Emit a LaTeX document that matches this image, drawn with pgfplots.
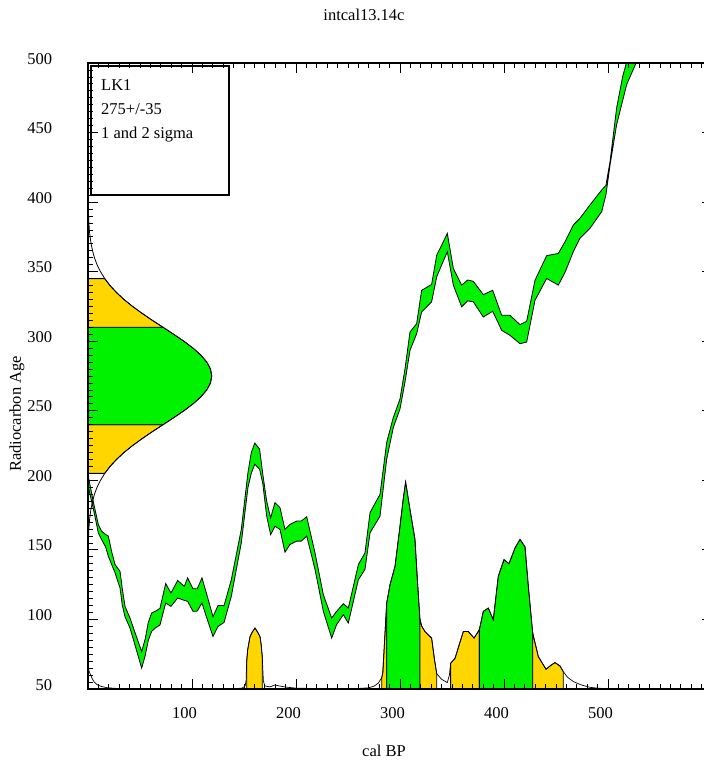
\documentclass[border=0pt]{standalone}
\usepackage{fontspec}
\setmainfont{Liberation Serif}
\usepackage{pgfplots}
\pgfplotsset{compat=1.18}
\definecolor{cgreen}{RGB}{0,242,0}
\definecolor{cyellow}{RGB}{255,214,0}
\newcommand{\fs}{\fontsize{16.5}{19}\selectfont}
\begin{document}
\fs
\begin{tikzpicture}
\useasboundingbox (-88pt,-72pt) rectangle (616pt,689pt);
\begin{axis}[
  at={(0pt,0pt)}, anchor=south west,
  scale only axis, width=624pt, height=626pt,
  xmin=0, xmax=600, ymin=50, ymax=500,
  xtick={100,200,300,400,500}, ytick={50,100,...,500},
  minor xtick={0,10,...,600}, minor ytick={50,55,...,500},
  tick align=inside, major tick length=10pt, minor tick length=5pt,
  every tick/.style={black, line width=0.8pt},
  axis line style={line width=1.6pt},
  axis on top,
  tick label style={font=\fs},
  xticklabel style={anchor=base, yshift=-29pt, xshift=-7.5pt},
  yticklabel style={anchor=base east, inner sep=0pt, xshift=-35.7pt, yshift=-1pt},
  /pgf/number format/assume math mode=true,
]
% calibration curve band
\addplot[fill=cgreen, draw=black, line width=0.8pt] coordinates {
(0,204)(5,185)(10,168)(13,163.5)(17,161)(19.5,160)(23,148)(26,139.5)(30.8,134.6)(33,122)(35.6,109.4)(40.4,101)(45,91)(51.6,77)(55,86)(58,98)(61.2,104.6)(65,106)(69.2,108)(74.7,125.8)(79.8,119)(86.2,128)(92.6,123.8)(95.8,129.9)(101,122)(105,122)(109.6,129.9)(113.8,119)(120.2,102)(125,110)(130.8,110)(137.8,128.6)(147.4,164.7)(153.8,205.6)(157,220)(160.4,226.8)(165,222.4)(168,205)(171.8,185)(175.6,173)(179.8,184)(184.6,180.4)(189.4,164.7)(194.2,168.3)(200.6,170.7)(205,170.7)(210.3,173.8)(218.3,147.8)(226.3,117.8)(234.3,101)(239,105.8)(245.5,111.3)(250.3,108.2)(260,139.5)(266.3,147.8)(271.2,176.8)(280.8,190)(287.2,227.3)(293.6,245.3)(300,258.5)(304.8,280.2)(309.6,306.6)(316,312.6)(320.8,336.6)(330.4,340.8)(335.3,361.9)(340,369)(345.5,377.5)(351.3,352.3)(359.3,340.3)(365,344)(370.5,343.1)(380.1,333.5)(389.1,336.6)(397.8,318.6)(405.8,318.6)(415.4,311.9)(421.8,314.3)(429.8,343.8)(441,361.5)(452.2,363.1)(459,372)(466.6,383.5)(473,388.4)(482.7,398)(494,408.8)(498,412)(502,429.3)(508.3,467.7)(514,490)(518,501)(522,515)
(530,506)(527.6,501)(518,484.6)(508.3,455.7)(502,426.9)(498,405.2)(494,393.2)(482.7,381.2)(473,374)(466.6,364.3)(459,350)(452.2,340.3)(441,345.1)(429.8,329.4)(421.8,299.4)(415.4,298.2)(405.8,304.2)(397.8,307.8)(389.1,321.5)(380.1,317.4)(370.5,328.3)(365,329)(359.3,324.7)(351.3,340.3)(345.5,364.3)(340,354.7)(335.3,346.3)(330.4,328.3)(320.8,321)(316,305.4)(309.6,293.4)(304.8,270.6)(300,251.3)(293.6,238)(287.2,215.2)(280.8,174.3)(271.2,162.3)(266.3,135.9)(260,128.6)(250.3,97.4)(245.5,103.4)(239,96.2)(234.3,86.6)(226.3,105.8)(218.3,135.9)(210.3,159.9)(205,156.3)(200.6,156.3)(194.2,153.9)(189.4,148.3)(184.6,164.7)(179.8,167)(175.6,161)(171.8,174.3)(168,198)(165,208)(160.4,211.6)(157,205)(153.8,194.8)(147.4,155)(137.8,116.6)(130.8,97.8)(125,95)(120.2,87.7)(113.8,102)(109.6,111.8)(105,106)(101,105.8)(95.8,113)(92.6,113.7)(86.2,115.4)(79.8,109.4)(74.7,111.8)(69.2,96)(65,94)(61.2,91.4)(58,85)(55,74)(51.6,65)(45,82)(40.4,93.8)(35.6,102)(33,110)(30.8,122.6)(26,133.5)(23,139)(19.5,145.5)(17,152)(13,157.5)(10,162)(5,180)(0,196)
} -- cycle;
% radiocarbon date 275+/-35 on the age axis
\addplot[fill=cyellow, draw=black, line width=0.8pt] coordinates {
(0,205)(16.1,205)(21.2,210)(27.4,215)(34.6,220)(42.9,225)(52.1,230)(61.9,235)(72.2,240)(0,240)} -- cycle;
\addplot[fill=cgreen, draw=black, line width=0.8pt] coordinates {
(0,240)(72.2,240)(82.4,245)(92.2,250)(101.1,255)(108.6,260)(114.2,265)(117.8,270)(119,275)(117.8,280)(114.2,285)(108.6,290)(101.1,295)(92.2,300)(82.4,305)(72.2,310)(0,310)} -- cycle;
\addplot[fill=cyellow, draw=black, line width=0.8pt] coordinates {
(0,310)(72.2,310)(61.9,315)(52.1,320)(42.9,325)(34.6,330)(27.4,335)(21.2,340)(16.1,345)(0,345)} -- cycle;
\addplot[draw=black, line width=0.8pt] coordinates {
(0.3,155)(0.55,160)(0.85,165)(1.3,170)(2.0,175)(3.0,180)(4.4,185)(6.2,190)(8.7,195)(12.0,200)(16.1,205)(21.2,210)(27.4,215)(34.6,220)(42.9,225)(52.1,230)(61.9,235)(72.2,240)(82.4,245)(92.2,250)(101.1,255)(108.6,260)(114.2,265)(117.8,270)(119,275)(117.8,280)(114.2,285)(108.6,290)(101.1,295)(92.2,300)(82.4,305)(72.2,310)(61.9,315)(52.1,320)(42.9,325)(34.6,330)(27.4,335)(21.2,340)(16.1,345)(12.0,350)(8.7,355)(6.2,360)(4.4,365)(3.0,370)(2.0,375)(1.3,380)(0.85,385)(0.55,390)(0.3,395)};
% calibrated probability distribution
\addplot[fill=cyellow, draw=black, line width=0.8pt] coordinates {
(152.6,50)(152.6,70)(153.5,78)(155.8,87.7)(158,91)(160.6,93.8)(163,91)(165.4,87.7)(166.5,82)(167.6,73)(167.6,50)} -- cycle;
\addplot[fill=cyellow, draw=black, line width=0.8pt] coordinates {
(282.4,50)(282.4,58)(283.5,62)(285.6,90.2)(287.2,111.8)(287.2,50)} -- cycle;
\addplot[fill=cgreen, draw=black, line width=0.8pt] coordinates {
(287.2,50)(287.2,111.8)(290.4,125)(295.2,138.2)(300,167.1)(303,186)(305.4,198.8)(309.6,179.1)(314.4,157.5)(316.7,128.6)(319.2,99.8)(319.2,50)} -- cycle;
\addplot[fill=cyellow, draw=black, line width=0.8pt] coordinates {
(319.2,50)(319.2,99.8)(321,95)(324,91.3)(327,89)(330.4,86.6)(333,72)(335.3,61)(335.3,50)} -- cycle;
\addplot[fill=cyellow, draw=black, line width=0.8pt] coordinates {
(348.7,50)(348.7,68.5)(352.9,72)(357,82)(360.9,91.3)(365.7,91.3)(371.2,86.6)(376.3,92.6)(376.3,50)} -- cycle;
\addplot[fill=cgreen, draw=black, line width=0.8pt] coordinates {
(376.3,50)(376.3,92.6)(380.1,105.8)(384.9,108.2)(389.7,99.8)(394.5,131)(400,143)(404.8,140.1)(410.6,151.4)(415.4,157.5)(420.2,152.2)(423.4,123.8)(427.6,90.2)(427.6,50)} -- cycle;
\addplot[fill=cyellow, draw=black, line width=0.8pt] coordinates {
(427.6,50)(427.6,90.2)(433,73.3)(440.4,64.2)(445,67)(449,69)(453.8,66.6)(457,62.5)(457,50)} -- cycle;
\addplot[draw=black, line width=0.7pt] coordinates {
(0,65)(2,61)(4,57.5)(6,55)(9,53)(13,51.8)(18,51)(25,50.5)(40,50.2)(80,50.1)(140,50.2)(148,50.6)(151,52)(152,56)(152.6,70)(153.5,78)(155.8,87.7)(158,91)(160.6,93.8)(163,91)(165.4,87.7)(166.5,82)(167.6,73)(168.6,56)(170,52.2)(175,51.5)(179.8,52.9)(184,52.2)(190,51.4)(200,50.6)(220,50.3)(260,50.4)(269.4,50.8)(275,52)(279.2,54.3)(282.4,58)(283.5,62)(285.6,90.2)(287.2,111.8)(290.4,125)(295.2,138.2)(300,167.1)(303,186)(305.4,198.8)(309.6,179.1)(314.4,157.5)(316.7,128.6)(319.2,99.8)(321,95)(324,91.3)(327,89)(330.4,86.6)(333,72)(335.3,61)(340,57)(345.5,54.6)(347.5,60)(348.7,68.5)(352.9,72)(357,82)(360.9,91.3)(365.7,91.3)(371.2,86.6)(376.3,92.6)(380.1,105.8)(384.9,108.2)(389.7,99.8)(394.5,131)(400,143)(404.8,140.1)(410.6,151.4)(415.4,157.5)(420.2,152.2)(423.4,123.8)(427.6,90.2)(433,73.3)(440.4,64.2)(445,67)(449,69)(453.8,66.6)(457,62.5)(461,58.5)(466.7,55.3)(474,53)(482.7,51.2)(490,50.6)(498.7,50.2)(510,50.1)(600,50.05)};
\end{axis}
\node[anchor=base, font=\fs] at (276pt,668pt) {intcal13.14c};
\node[anchor=base, font=\fs] at (296pt,-67pt) {cal BP};
\node[rotate=90, anchor=center, font=\fs] at (-71pt,275pt) {Radiocarbon Age};
\draw[line width=1.2pt] (3pt,623pt) rectangle (141pt,494pt);
\node[anchor=base west, inner sep=0pt, font=\fs] at (13pt,598.3pt) {LK1};
\node[anchor=base west, inner sep=0pt, font=\fs] at (13pt,574pt) {275+/-35};
\node[anchor=base west, inner sep=0pt, font=\fs] at (13pt,550pt) {1 and 2 sigma};
\end{tikzpicture}
\end{document}
